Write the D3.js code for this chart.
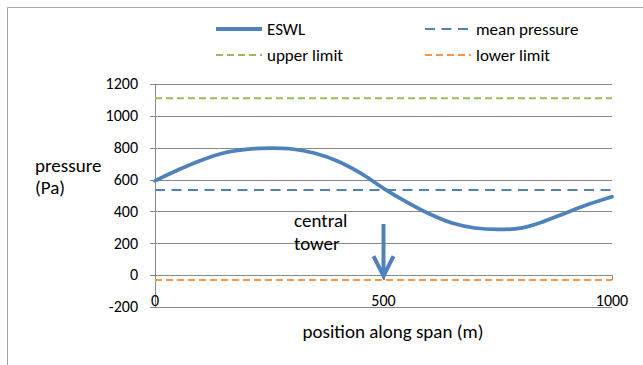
<!DOCTYPE html>
<html>
<head>
<meta charset="utf-8">
<script src="https://cdn.jsdelivr.net/npm/d3@7"></script>
<style>
  body { margin: 0; background: #fff; }
  svg { display: block; font-family: Carlito, Calibri, "Liberation Sans", sans-serif; }
</style>
</head>
<body>
<script>
// span position (m) and ESWL pressure (Pa)
const positions = [0, 50, 100, 150, 200, 250, 300, 350, 400, 450, 500,
                   550, 600, 650, 700, 750, 800, 850, 900, 950, 1000];
const eswl = [592, 660, 720, 767, 790, 797, 792, 765, 715, 640, 545,
              460, 385, 327, 296, 287, 295, 336, 392, 446, 492];

const meanPressure = 535;
const upperLimit = 1110;
const lowerLimit = -30;

const yTicks = [-200, 0, 200, 400, 600, 800, 1000, 1200];
const xTicks = [0, 500, 1000];
const towerPos = 500;

const width = 643, height = 365;
const blue = "#4F81BD", green = "#9BBB59", orange = "#F79646", grid = "#898989";
const longDash = "10,6.5", shortDash = "7,4";

const svg = d3.select("body").append("svg")
    .attr("width", width)
    .attr("height", height);

// chart frame (only left and top edges fall inside the picture)
svg.append("path")
    .attr("d", `M7.5,${height} V7.5 H${width}`)
    .attr("fill", "none")
    .attr("stroke", "#a6a6a6")
    .attr("stroke-width", 1);

const x = d3.scaleLinear().domain([0, 1000]).range([155, 612]);
const y = d3.scaleLinear().domain([-200, 1200]).range([307, 84]);

// gridlines
svg.append("g")
    .selectAll("line")
    .data(yTicks)
    .join("line")
    .attr("x1", x(0) - 5)
    .attr("x2", x(1000))
    .attr("y1", d => Math.round(y(d)) + 0.5)
    .attr("y2", d => Math.round(y(d)) + 0.5)
    .attr("stroke", grid)
    .attr("stroke-width", 1);

// y axis line
svg.append("line")
    .attr("x1", x(0) + 0.5).attr("x2", x(0) + 0.5)
    .attr("y1", y(1200)).attr("y2", y(-200))
    .attr("stroke", grid);

// x axis ticks at the zero line
svg.append("g")
    .selectAll("line")
    .data(xTicks)
    .join("line")
    .attr("x1", d => Math.round(x(d)) + 0.5)
    .attr("x2", d => Math.round(x(d)) + 0.5)
    .attr("y1", y(0))
    .attr("y2", y(0) + 5)
    .attr("stroke", grid);

// y tick labels
svg.append("g")
    .selectAll("text")
    .data(yTicks)
    .join("text")
    .attr("x", 138)
    .attr("y", d => y(d))
    .attr("dy", "0.33em")
    .attr("text-anchor", "end")
    .attr("font-size", 16)
    .attr("fill", "#000")
    .text(d => d);

// x tick labels
svg.append("g")
    .selectAll("text")
    .data(xTicks)
    .join("text")
    .attr("x", d => x(d))
    .attr("y", 306)
    .attr("text-anchor", "middle")
    .attr("font-size", 16)
    .text(d => d);

// axis titles
svg.append("text")
    .attr("font-size", 19)
    .selectAll("tspan")
    .data(["pressure", "(Pa)"])
    .join("tspan")
    .attr("x", 35)
    .attr("y", (d, i) => 172 + i * 22)
    .text(d => d);

svg.append("text")
    .attr("x", 393)
    .attr("y", 338)
    .attr("text-anchor", "middle")
    .attr("font-size", 19)
    .text("position along span (m)");

// horizontal reference lines
const hlines = [
    { value: upperLimit, color: green, dash: shortDash },
    { value: lowerLimit, color: orange, dash: shortDash },
    { value: meanPressure, color: blue, dash: longDash }
];
svg.append("g")
    .selectAll("line")
    .data(hlines)
    .join("line")
    .attr("x1", x(0))
    .attr("x2", x(1000))
    .attr("y1", d => y(d.value))
    .attr("y2", d => y(d.value))
    .attr("stroke", d => d.color)
    .attr("stroke-width", 2)
    .attr("stroke-dasharray", d => d.dash);

// ESWL curve
const line = d3.line()
    .x((d, i) => x(positions[i]))
    .y(d => y(d))
    .curve(d3.curveCatmullRom);

svg.append("path")
    .datum(eswl)
    .attr("fill", "none")
    .attr("stroke", blue)
    .attr("stroke-width", 3.75)
    .attr("stroke-linecap", "round")
    .attr("d", line);

// central tower arrow
const ax = x(towerPos), aTop = 224, aTip = y(0) + 1;
svg.append("path")
    .attr("d", `M${ax},${aTop} V${aTip} M${ax - 10},${aTip - 20} L${ax},${aTip} L${ax + 10},${aTip - 20}`)
    .attr("fill", "none")
    .attr("stroke", blue)
    .attr("stroke-width", 4);

svg.append("text")
    .attr("font-size", 19)
    .selectAll("tspan")
    .data(["central", "tower"])
    .join("tspan")
    .attr("x", 294)
    .attr("y", (d, i) => 227 + i * 23)
    .text(d => d);

// legend
const legendItems = [
    { name: "ESWL", color: blue, dash: null, width: 4, lx: 216, ly: 29 },
    { name: "mean pressure", color: blue, dash: longDash, width: 2, lx: 425, ly: 29 },
    { name: "upper limit", color: green, dash: shortDash, width: 2, lx: 216, ly: 55 },
    { name: "lower limit", color: orange, dash: shortDash, width: 2, lx: 425, ly: 55 }
];
const legend = svg.append("g")
    .selectAll("g")
    .data(legendItems)
    .join("g")
    .attr("transform", d => `translate(${d.lx},${d.ly})`);

legend.append("line")
    .attr("x1", 0).attr("x2", 46)
    .attr("stroke", d => d.color)
    .attr("stroke-width", d => d.width)
    .attr("stroke-dasharray", d => d.dash);

legend.append("text")
    .attr("x", 51)
    .attr("dy", "0.33em")
    .attr("font-size", 17)
    .text(d => d.name);
</script>
</body>
</html>
